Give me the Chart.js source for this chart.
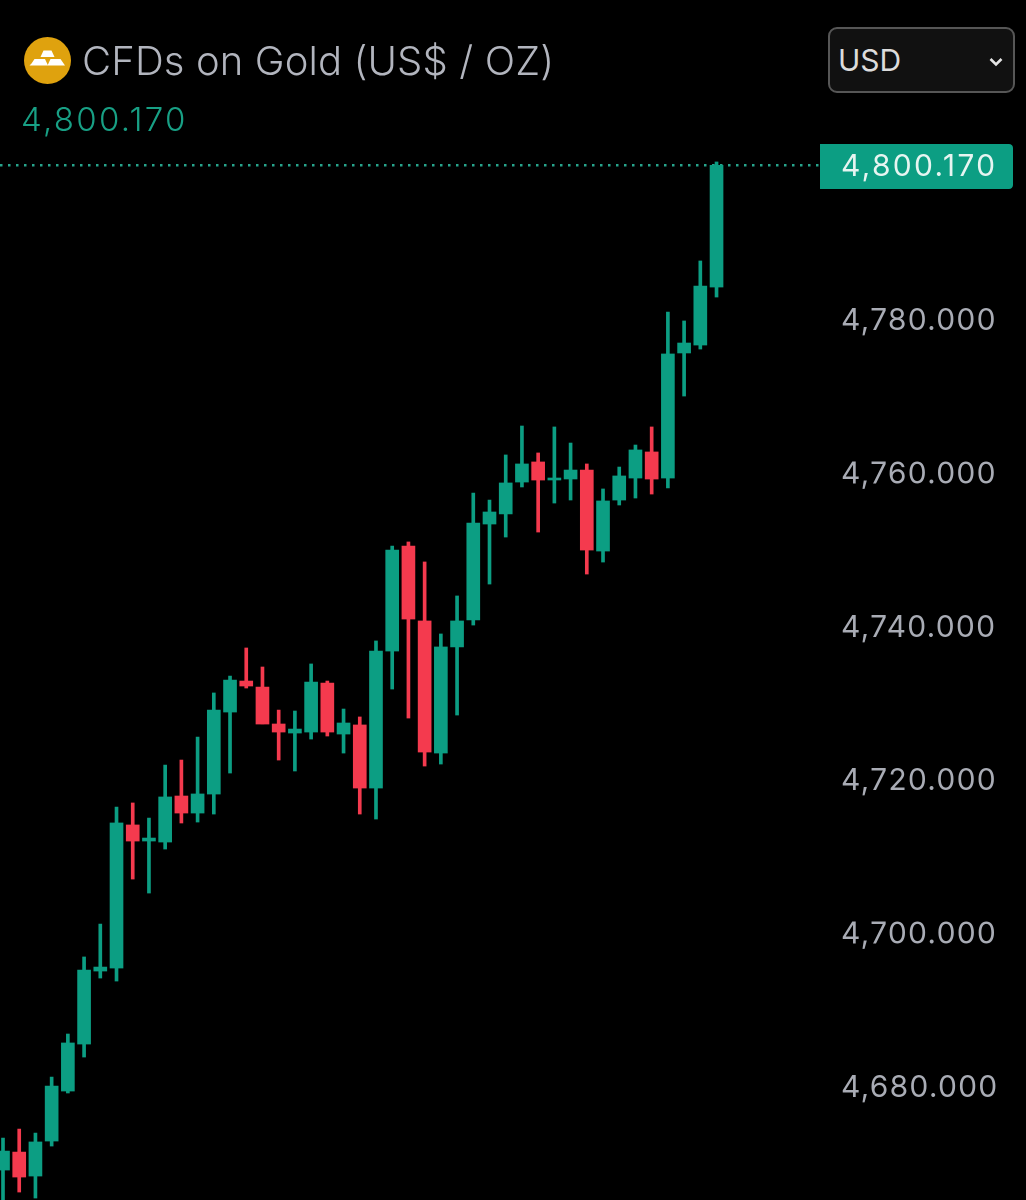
<!DOCTYPE html>
<html>
<head>
<meta charset="utf-8">
<style>
html,body{margin:0;padding:0;background:#000;overflow:hidden}
#wrap{position:relative;width:1026px;height:1200px;background:#000;font-family:Inter,"Noto Sans",sans-serif}
canvas{position:absolute;left:0;top:0}
.t{position:absolute;white-space:nowrap;line-height:1}
#title{left:82px;top:41px;font-size:40px;color:#b2b5be;font-weight:300;letter-spacing:.12px}
#price{left:21px;top:103px;font-size:33px;color:#18a085;font-weight:300;letter-spacing:2.3px}
#sel{position:absolute;left:828px;top:27px;width:183px;height:62px;border:2px solid #565656;border-radius:9px;background:#111}
#usd{left:838px;top:45px;font-size:30px;color:#dcdcdc;font-weight:400}
svg{position:absolute}
</style>
</head>
<body>
<div id="wrap">
<canvas id="c" width="1026" height="1200" style="width:1026px;height:1200px"></canvas>
<svg style="left:24px;top:37px" width="47" height="47" viewBox="0 0 47 47">
<circle cx="23.5" cy="23.5" r="23.5" fill="#dfa20e"/>
<path d="M19.5 13.5h8l3 6.5h-14z M10.5 22h10.5l3 6.5H5.5l2-2z M26.5 22h10l4.500 6.500H23.500z" fill="#fff"/>
</svg>
<div class="t" id="title">CFDs on Gold (US$ / OZ)</div>
<div class="t" id="price">4,800.170</div>
<div id="sel"></div>
<div class="t" id="usd">USD</div>
<svg style="left:988px;top:56px" width="16" height="12" viewBox="0 0 16 12"><path d="M2.500 3l5.500 5.500L13.500 3" fill="none" stroke="#e4e4e4" stroke-width="2.600"/></svg>
</div>
<script src="https://cdn.jsdelivr.net/npm/chart.js@4"></script>
<script>
const opens=[4669.18,4671.52,4668.39,4672.96,4679.48,4685.60,4695.12,4695.51,4714.16,4712.07,4711.94,4717.94,4715.72,4718.20,4728.89,4732.93,4732.15,4727.33,4726.15,4726.28,4732.67,4726.02,4727.20,4718.98,4736.84,4750.53,4740.76,4723.54,4737.37,4740.89,4753.40,4754.71,4758.88,4761.49,4759.14,4759.27,4760.44,4749.88,4756.53,4759.40,4762.79,4759.40,4775.70,4776.74,4784.30];
const closes=[4671.65,4668.26,4672.83,4680.13,4685.74,4695.25,4695.64,4714.42,4712.07,4712.46,4717.81,4715.72,4718.20,4729.15,4733.06,4732.28,4727.33,4726.28,4726.67,4732.80,4726.28,4727.46,4718.98,4736.84,4750.01,4741.02,4723.68,4737.37,4740.76,4753.53,4754.97,4758.75,4761.23,4759.14,4759.40,4760.44,4750.01,4756.40,4759.66,4763.05,4759.27,4775.57,4777.00,4784.43,4800.17];
const highs=[4673.35,4674.52,4674.00,4681.30,4686.91,4696.95,4701.25,4716.50,4717.03,4715.07,4721.98,4722.63,4725.63,4731.37,4733.58,4737.24,4734.76,4729.15,4729.02,4735.15,4732.93,4729.28,4728.24,4738.15,4750.53,4751.06,4748.45,4739.06,4744.02,4757.44,4756.53,4762.40,4766.18,4762.66,4766.05,4763.96,4761.23,4757.97,4760.83,4763.70,4766.05,4781.04,4779.87,4787.69,4800.60];
const lows=[4664.61,4666.31,4665.53,4672.31,4679.22,4683.91,4694.21,4693.82,4707.12,4705.29,4711.03,4714.42,4714.55,4715.59,4720.94,4732.02,4727.33,4722.63,4721.20,4725.37,4725.76,4723.54,4715.59,4714.94,4731.89,4728.11,4721.85,4722.11,4728.50,4740.23,4745.58,4751.71,4758.23,4752.36,4756.14,4756.53,4746.88,4748.45,4755.88,4756.79,4757.31,4758.10,4770.09,4776.22,4783.00];
const tickValues=[4680,4700,4720,4740,4760,4780];
const lastPrice=4800.17;
const GREEN='#0c9e83', RED='#f43a4e', TEXT='#a9acb5';
const fmt=v=>v.toLocaleString('en-US',{minimumFractionDigits:3,maximumFractionDigits:3});
const colors=opens.map((o,i)=>closes[i]>=o?GREEN:RED);
const xMin=-0.185, xMax=50.38;
const tagPlugin={id:'tag',
 beforeDraw(ch){ch.ctx.letterSpacing='1.25px';},
 afterDraw(ch){
  const c=ch.ctx,y=ch.scales.y.getPixelForValue(lastPrice)+0.7,x0=ch.chartArea.right;
  c.save();
  c.fillStyle='#0c9e83';
  c.beginPath();c.roundRect(x0,y-22,193,45,[0,4,4,0]);c.fill();
  c.fillStyle='#e6f5f1';c.font='400 30px Inter';c.textAlign='left';c.textBaseline='middle';
  c.letterSpacing='2.3px';
  c.fillText(fmt(lastPrice),x0+21,y+1);
  c.restore();
}};
new Chart(document.getElementById('c'),{
  data:{datasets:[
    {type:'line',data:[{x:xMin,y:lastPrice},{x:xMax,y:lastPrice}],borderColor:'#27a48c',borderWidth:2.5,borderDash:[2.5,5.5],pointRadius:0,order:3},
    {type:'bar',data:opens.map((o,i)=>({x:i,y:[lows[i],highs[i]]})),backgroundColor:colors,barThickness:3,grouped:false,order:2},
    {type:'bar',data:opens.map((o,i)=>({x:i,y:[o,closes[i]]})),backgroundColor:colors,barThickness:13,grouped:false,minBarLength:2,order:1}
  ]},
  options:{
    responsive:false,animation:false,devicePixelRatio:2,
    layout:{padding:0},
    plugins:{legend:{display:false},tooltip:{enabled:false},title:{display:false}},
    scales:{
      x:{type:'linear',min:xMin,max:xMax,display:false,offset:false},
      y:{type:'linear',position:'right',min:4665.27,max:4821.72,
         grid:{display:false,drawTicks:false},border:{display:false},
         afterBuildTicks:s=>{s.ticks=tickValues.map(v=>({value:v}));},
         afterFit:s=>{s.width=206;s.paddingTop=0;s.paddingBottom=0;},
         ticks:{color:TEXT,padding:21,labelOffset:1,crossAlign:'near',autoSkip:false,font:{family:'Inter',size:30,weight:'400'},callback:v=>fmt(v)}}
    }
  },
  plugins:[tagPlugin]
});
</script>
</body>
</html>
